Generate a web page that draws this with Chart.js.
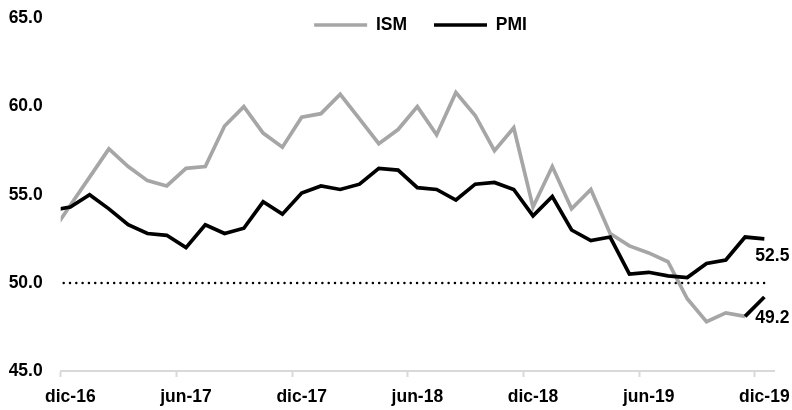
<!DOCTYPE html>
<html>
<head>
<meta charset="utf-8">
<script src="https://cdn.jsdelivr.net/npm/chart.js@4.4.1/dist/chart.umd.min.js"></script>
<style>
html,body{margin:0;padding:0;background:#ffffff;}
canvas{display:block;}
</style>
</head>
<body>
<canvas id="c" width="792" height="410"></canvas>
<script>
// ---- data ----
const months = ['nov-16','dic-16',
  'ene-17','feb-17','mar-17','abr-17','may-17','jun-17','jul-17','ago-17','sep-17','oct-17','nov-17','dic-17',
  'ene-18','feb-18','mar-18','abr-18','may-18','jun-18','jul-18','ago-18','sep-18','oct-18','nov-18','dic-18',
  'ene-19','feb-19','mar-19','abr-19','may-19','jun-19','jul-19','ago-19','sep-19','oct-19','nov-19','dic-19'];
const ismValues = [52.8, 54.4,
  56.0, 57.6, 56.6, 55.8, 55.5, 56.5, 56.6, 58.9, 60.0, 58.5, 57.7, 59.4,
  59.6, 60.7, 59.3, 57.9, 58.7, 60.0, 58.4, 60.8, 59.5, 57.5, 58.8, 54.3,
  56.6, 54.2, 55.3, 52.8, 52.1, 51.7, 51.2, 49.1, 47.8, 48.3, 48.1, 49.2];
const pmiValues = [54.1, 54.3,
  55.0, 54.2, 53.3, 52.8, 52.7, 52.0, 53.3, 52.8, 53.1, 54.6, 53.9, 55.1,
  55.5, 55.3, 55.6, 56.5, 56.4, 55.4, 55.3, 54.7, 55.6, 55.7, 55.3, 53.8,
  54.9, 53.0, 52.4, 52.6, 50.5, 50.6, 50.4, 50.3, 51.1, 51.3, 52.6, 52.5];
const thresholdValues = [50, 50,
  50, 50, 50, 50, 50, 50, 50, 50, 50, 50, 50, 50,
  50, 50, 50, 50, 50, 50, 50, 50, 50, 50, 50, 50,
  50, 50, 50, 50, 50, 50, 50, 50, 50, 50, 50, 50];
const xTickLabels = ['dic-16','jun-17','dic-17','jun-18','dic-18','jun-19','dic-19'];
const yTickValues = [45, 50, 55, 60, 65];
const seriesNames = ['ISM', 'PMI'];

// ---- style ----
const FONT = "'Liberation Sans', Arial, sans-serif";
const FS = 17.5;
const GRAY = '#a6a6a6';
const BLACK = '#000000';
const AXIS = '#d9d9d9';
Chart.defaults.font.family = FONT;
Chart.defaults.font.weight = 'bold';
Chart.defaults.font.size = FS;
Chart.defaults.color = '#000000';

const lastIdx = months.length - 1;

// move the legend so it overlays the top of the plot
const legendOverlay = {
  id: 'legendOverlay',
  afterLayout(chart, args, opts) {
    const lg = chart.legend;
    if (!lg) return;
    const p = chart.options.plugins.legend.labels.padding;
    const fs = chart.options.plugins.legend.labels.font.size;
    const top = opts.centerY - p - fs / 2;
    const h = lg.bottom - lg.top;
    lg.top = top; lg.bottom = top + h;
    const dx = (opts.sumLR - (lg.left + lg.right)) / 2;
    lg.left += dx; lg.right += dx;
  }
};

// end-value labels for the two series
const endLabels = {
  id: 'endLabels',
  afterDatasetsDraw(chart, args, opts) {
    const ctx = chart.ctx;
    ctx.save();
    ctx.font = 'bold ' + FS + 'px ' + FONT;
    ctx.fillStyle = '#000';
    ctx.textAlign = 'center';
    ctx.textBaseline = 'middle';
    opts.items.forEach(it => {
      const meta = chart.getDatasetMeta(it.dataset);
      const pt = meta.data[lastIdx];
      const v = chart.data.datasets[it.dataset].data[lastIdx];
      ctx.fillText(v.toFixed(1), pt.x + it.dx, pt.y + it.dy);
    });
    ctx.restore();
  }
};

new Chart(document.getElementById('c'), {
  type: 'line',
  data: {
    labels: months,
    datasets: [
      {
        label: seriesNames[0],
        data: ismValues,
        borderColor: GRAY,
        backgroundColor: GRAY,
        borderWidth: 3.7,
        pointRadius: 0,
        tension: 0,
        order: 2,
        segment: {
          borderColor: c => c.p1DataIndex === lastIdx ? BLACK : GRAY
        }
      },
      {
        label: seriesNames[1],
        data: pmiValues,
        borderColor: BLACK,
        backgroundColor: BLACK,
        borderWidth: 3.7,
        pointRadius: 0,
        tension: 0,
        order: 1
      },
      {
        label: '',
        data: thresholdValues,
        borderColor: BLACK,
        borderWidth: 2.5,
        borderDash: [0.01, 6.3],
        borderCapStyle: 'round',
        pointRadius: 0,
        order: 3
      }
    ]
  },
  options: {
    responsive: false,
    animation: false,
    layout: { padding: { top: -100, left: 8, right: 18, bottom: 0 } },
    plugins: {
      tooltip: { enabled: false },
      legend: {
        display: true,
        position: 'top',
        labels: {
          filter: item => item.text !== '',
          sort: (a, b) => a.datasetIndex - b.datasetIndex,
          usePointStyle: true,
          pointStyle: 'line',
          pointStyleWidth: 53,
          padding: 27,
          font: { size: FS, weight: 'bold', family: FONT },
          color: '#000'
        }
      },
      legendOverlay: { centerY: 25, sumLR: 841 },
      endLabels: { items: [ { dataset: 1, dx: 8, dy: 17 }, { dataset: 0, dx: 8, dy: 21 } ] }
    },
    scales: {
      x: {
        type: 'category',
        min: 'dic-16',
        offset: true,
        afterFit: a => { a.height = 39; a.paddingLeft = 0; a.paddingRight = 0; },
        grid: {
          display: true,
          offset: true,
          drawOnChartArea: false,
          drawTicks: true,
          tickLength: 6,
          tickWidth: 2,
          tickColor: c => (c.tick && xTickLabels.includes(months[c.tick.value])) ? AXIS : 'rgba(0,0,0,0)'
        },
        border: { display: true, color: AXIS, width: 2 },
        ticks: {
          autoSkip: false,
          maxRotation: 0,
          minRotation: 0,
          padding: 9.5,
          font: { size: FS, weight: 'bold', family: FONT },
          color: '#000',
          callback: function (value) {
            const lab = months[value];
            return xTickLabels.includes(lab) ? lab : '';
          }
        }
      },
      y: {
        min: 45,
        max: 65,
        afterFit: a => { a.width = 52.7; a.paddingTop = 18.5; a.paddingBottom = 0; },
        afterBuildTicks: axis => { axis.ticks = yTickValues.map(v => ({ value: v })); },
        grid: { display: false, drawTicks: false },
        border: { display: false },
        ticks: {
          padding: 18,
          font: { size: FS, weight: 'bold', family: FONT },
          color: '#000',
          callback: v => Number(v).toFixed(1)
        }
      }
    }
  },
  plugins: [legendOverlay, endLabels]
});
</script>
</body>
</html>
